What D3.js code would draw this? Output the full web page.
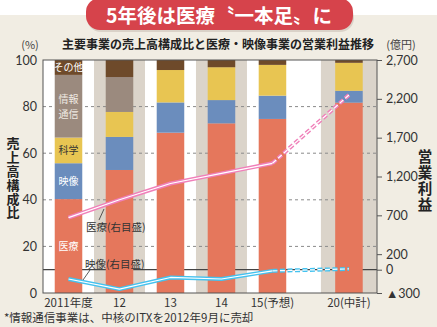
<!DOCTYPE html>
<html>
<head>
<meta charset="utf-8">
<script src="https://cdn.jsdelivr.net/npm/d3@7"></script>
<style>
  body { margin: 0; background: #fff; }
  svg { display: block; font-family: "Noto Sans CJK JP", "Noto Sans", sans-serif; }
</style>
</head>
<body>
<div id="viz"></div>
<script>

// data
var categories = ["2011年度", "12", "13", "14", "15(予想)", "20(中計)"];
var segNames = ["医療", "映像", "科学", "情報通信", "その他"];
var medical  = [40.3, 52.8, 68.8, 72.8, 74.7, 81.7];
var video    = [15.4, 14.2, 13.0, 10.0, 10.0, 5.1];
var science  = [11.0, 10.7, 13.9, 14.1, 13.2, 12.0];
var infocom  = [26.9, 15.0, 0, 0, 0, 0];
var other    = [6.4, 7.3, 4.3, 3.1, 2.1, 1.2];
var medicalProfit = [670, 900, 1110, 1240, 1370, 2250];
var videoProfit   = [-120, -250, -100, -120, -15, 10];
var leftTicks  = [0, 20, 40, 60, 80, 100];
var rightTicks = [-300, 0, 200, 700, 1200, 1700, 2200, 2700];

var W = 437, H = 327;
var plot = {l: 43, r: 377, t: 60, b: 293};
var colors = {
    "医療": "#e5775c", "映像": "#6b8dbd", "科学": "#e8c552",
    "情報通信": "#9b8a7e", "その他": "#6e4a2a"
};

var svg = d3.select("#viz").append("svg")
    .attr("width", W).attr("height", H);

svg.append("rect").attr("x", 0).attr("y", 15).attr("width", W).attr("height", H - 15)
    .attr("fill", "#f1ede3");

// broken axis: last category sits 1.5 steps after "15"
var pos = categories.map(function(d, i){ return i < 5 ? i : 5.5; });
var x = d3.scaleLinear().domain([-0.5, 6.05]).range([plot.l, plot.r]);
var step = x(1) - x(0);
var barW = step * 0.54;
var y = d3.scaleLinear().domain([0, 100]).range([plot.b, plot.t]);
var y2 = d3.scaleLinear().domain([-300, 2700]).range([plot.b, plot.t]);

// plot background + shaded columns
svg.append("rect").attr("x", plot.l).attr("y", plot.t)
    .attr("width", plot.r - plot.l).attr("height", plot.b - plot.t).attr("fill", "#fff");
[1, 3, 5].forEach(function(i){
    var x0 = i == 5 ? x(pos[i] - 0.55) : x(pos[i] - 0.5);
    var x1 = i == 5 ? plot.r : x(pos[i] + 0.5);
    svg.append("rect").attr("x", x0).attr("y", plot.t)
        .attr("width", x1 - x0).attr("height", plot.b - plot.t).attr("fill", "#dbd4ca");
});

// grid
svg.append("g").selectAll("line").data([20, 40, 60, 80]).enter().append("line")
    .attr("x1", plot.l).attr("x2", plot.r)
    .attr("y1", function(d){ return y(d); }).attr("y2", function(d){ return y(d); })
    .attr("stroke", "#8a8a8a").attr("stroke-dasharray", "3,3");
svg.append("line").attr("x1", plot.l).attr("x2", plot.r)
    .attr("y1", y2(0)).attr("y2", y2(0)).attr("stroke", "#444").attr("stroke-width", 1.2);

// stacked bars
var rows = categories.map(function(c, i){
    return {cat: c, "医療": medical[i], "映像": video[i], "科学": science[i],
            "情報通信": infocom[i], "その他": other[i]};
});
var stack = d3.stack().keys(segNames)(rows);
svg.append("g").selectAll("g").data(stack).enter().append("g")
    .attr("fill", function(d){ return colors[d.key]; })
    .selectAll("rect").data(function(d){ return d; }).enter().append("rect")
    .attr("x", function(d, i){ return x(pos[i]) - barW / 2; })
    .attr("width", barW)
    .attr("y", function(d){ return y(d[1]); })
    .attr("height", function(d){ return y(d[0]) - y(d[1]); });

// segment labels in first bar
var segLabel = {"医療": ["医療"], "映像": ["映像"], "科学": ["科学"], "情報通信": ["情報", "通信"], "その他": ["その他"]};
var segColor = {"医療": "#fff", "映像": "#fff", "科学": "#333", "情報通信": "#efe9e2", "その他": "#fff"};
stack.forEach(function(s){
    var d = s[0];
    var cy = (y(d[0]) + y(d[1])) / 2;
    var lines = segLabel[s.key];
    lines.forEach(function(str, j){
        svg.append("text").attr("text-anchor", "middle").attr("font-size", 10)
            .attr("fill", segColor[s.key]).attr("x", x(pos[0]))
            .attr("y", cy + (j - (lines.length - 1) / 2) * 14.5 + 4).text(str);
    });
});

// profit lines
function drawLine(vals, col){
    var pts = vals.map(function(v, i){ return [x(pos[i]), y2(v)]; });
    var line = d3.line();
    var solid = pts.slice(0, 5), dash = pts.slice(4);
    svg.append("path").attr("d", line(solid)).attr("fill", "none")
        .attr("stroke", col).attr("stroke-width", 4).attr("stroke-linejoin", "round");
    svg.append("path").attr("d", line(solid)).attr("fill", "none")
        .attr("stroke", "#fff").attr("stroke-width", 1.2).attr("stroke-linejoin", "round");
    svg.append("path").attr("d", line(dash)).attr("fill", "none")
        .attr("stroke", col).attr("stroke-width", 4).attr("stroke-dasharray", "5,2.5");
    svg.append("path").attr("d", line(dash)).attr("fill", "none")
        .attr("stroke", "#fff").attr("stroke-width", 1.2).attr("stroke-dasharray", "5,2.5");
}
drawLine(medicalProfit, "#f07fb9");
drawLine(videoProfit, "#45c2ef");

// line annotations
svg.append("line").attr("x1", 99).attr("y1", 220).attr("x2", 104).attr("y2", 209)
    .attr("stroke", "#333").attr("stroke-width", 0.8);
svg.append("text").attr("x", 86).attr("y", 231).attr("font-size", 10.5).attr("fill", "#333")
    .text("医療(右目盛)");
svg.append("line").attr("x1", 83).attr("y1", 280).attr("x2", 90).attr("y2", 270)
    .attr("stroke", "#333").attr("stroke-width", 0.8);
svg.append("text").attr("x", 85).attr("y", 268).attr("font-size", 10.5).attr("fill", "#333")
    .text("映像(右目盛)");

// frame
svg.append("rect").attr("x", plot.l).attr("y", plot.t)
    .attr("width", plot.r - plot.l).attr("height", plot.b - plot.t)
    .attr("fill", "none").attr("stroke", "#555").attr("stroke-width", 1);

// axes
var leftAxis = svg.append("g").attr("transform", "translate(" + plot.l + ",0)")
    .call(d3.axisLeft(y).tickValues(leftTicks).tickSize(0).tickPadding(6));
leftAxis.select(".domain").remove();
leftAxis.selectAll("text").attr("font-size", 12.5).attr("fill", "#333")
    .attr("font-family", "Lato, 'Noto Sans', sans-serif");

var rightAxis = svg.append("g").attr("transform", "translate(" + plot.r + ",0)")
    .call(d3.axisRight(y2).tickValues(rightTicks).tickSize(5).tickPadding(4)
        .tickFormat(function(d){ return d < 0 ? "▲" + d3.format(",")(-d) : d3.format(",")(d); }));
rightAxis.select(".domain").remove();
rightAxis.selectAll("line").attr("stroke", "#555");
rightAxis.selectAll("text").attr("font-size", 12.5).attr("fill", "#333")
    .attr("font-family", "Lato, 'Noto Sans', sans-serif");

svg.append("g").selectAll("text").data(categories).enter().append("text")
    .attr("x", function(d, i){ return x(pos[i]); }).attr("y", 307)
    .attr("text-anchor", "middle").attr("font-size", 11.5).attr("fill", "#333")
    .text(function(d){ return d; });

// unit labels and titles
svg.append("text").attr("x", 30).attr("y", 49).attr("text-anchor", "middle")
    .attr("font-size", 11).attr("fill", "#444").text("(%)");
svg.append("text").attr("x", 401).attr("y", 49).attr("text-anchor", "middle")
    .attr("font-size", 11).attr("fill", "#444").text("(億円)");
svg.append("text").attr("x", 218).attr("y", 49).attr("text-anchor", "middle")
    .attr("font-size", 12).attr("font-weight", "bold").attr("fill", "#222")
    .text("主要事業の売上高構成比と医療・映像事業の営業利益推移");

// vertical axis titles
svg.append("text").attr("x", 13).attr("y", 137)
    .style("writing-mode", "vertical-rl").attr("letter-spacing", 0.8)
    .attr("font-size", 13).attr("font-weight", "bold").attr("fill", "#222")
    .text("売上高構成比");
svg.append("text").attr("x", 425).attr("y", 149)
    .style("writing-mode", "vertical-rl").attr("letter-spacing", 1.5)
    .attr("font-size", 14.5).attr("font-weight", "bold").attr("fill", "#222")
    .text("営業利益");

svg.append("text").attr("x", 4).attr("y", 322).attr("font-size", 11.5).attr("fill", "#333")
    .text("*情報通信事業は、中核のITXを2012年9月に売却");

// header banner
svg.append("rect").attr("x", 86).attr("y", 2).attr("width", 267).attr("height", 28)
    .attr("rx", 14).attr("fill", "#b9a9a0").attr("opacity", 0.4).attr("transform", "translate(1,2)");
svg.append("rect").attr("x", 86).attr("y", -2).attr("width", 267).attr("height", 32)
    .attr("rx", 14).attr("fill", "#d6434b");
svg.append("text").attr("x", 219).attr("y", 23).attr("text-anchor", "middle")
    .attr("font-size", 19.5).attr("font-weight", "bold").attr("fill", "#fff")
    .text("5年後は医療〝一本足〟に");

</script>
</body>
</html>
